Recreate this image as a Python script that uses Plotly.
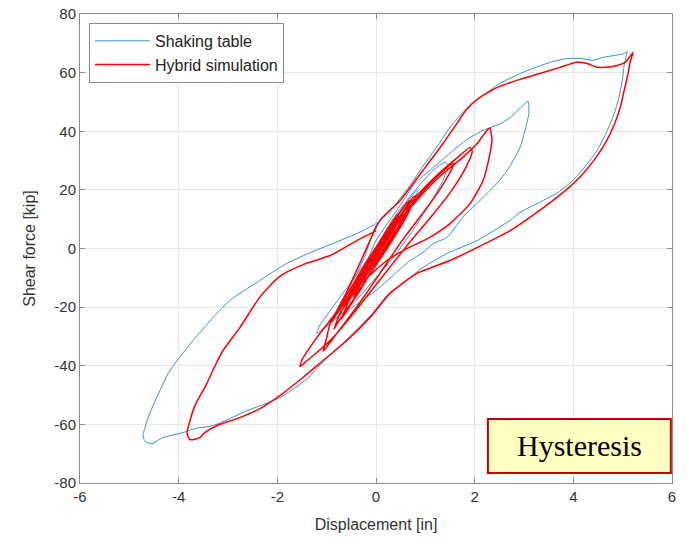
import plotly.graph_objects as go

# ---------------- data (displacement [in], shear force [kip]) ----------------
# Shaking table (blue) path segments
blue_center = [(0.00, 0.0), (0.25, 6.5), (0.55, 13.5), (0.62, 15.0), (0.55, 12.0), (0.30, 4.5),
               (0.00, -4.0), (-0.30, -11.5), (-0.45, -15.0), (-0.35, -10.5), (-0.05, -1.0),
               (0.35, 9.0), (0.75, 18.5), (0.85, 20.0), (0.75, 15.5), (0.45, 6.5), (0.10, -3.5),
               (-0.30, -13.0), (-0.60, -19.0), (-0.75, -23.0), (-0.65, -18.0), (-0.30, -8.0),
               (0.05, 1.5), (0.40, 10.5), (0.30, 5.0), (0.00, -3.0), (-0.40, -13.5),
               (-0.52, -14.5), (-0.15, -4.0)]
blue_loop2 = [(0.30, 9.0), (0.80, 20.0), (1.15, 26.5), (1.40, 29.5), (1.46, 28.5), (1.35, 23.0),
              (1.10, 15.5), (0.80, 7.5), (0.40, -2.0), (0.00, -10.0), (-0.45, -18.5),
              (-0.85, -24.5), (-1.12, -28.0), (-1.20, -29.0), (-1.15, -26.5), (-0.90, -20.5),
              (-0.55, -12.5), (-0.15, -3.0)]
blue_loop1 = [(0.00, 2.7), (0.49, 14.7), (0.79, 22.2), (1.16, 27.6), (1.64, 34.5), (1.91, 37.9),
              (2.17, 40.3), (2.51, 42.5), (2.72, 44.7), (2.98, 48.8), (3.08, 50.2), (3.10, 46.1),
              (3.06, 43.0), (2.92, 34.5), (2.66, 26.6), (2.45, 22.2), (2.17, 17.4), (1.76, 10.6),
              (1.44, 3.8), (1.16, 1.7), (0.95, -1.4), (0.69, -4.1), (0.39, -8.5), (0.00, -14.3),
              (-0.43, -19.5), (-0.83, -23.9), (-0.95, -26.0), (-0.70, -18.0), (-0.40, -9.0),
              (-0.20, -1.5)]
blue_outer = [(0.00, 7.8), (0.28, 12.6), (0.49, 17.1), (0.69, 21.5), (0.95, 28.0), (1.24, 34.8),
              (1.50, 41.3), (1.84, 47.8), (2.11, 51.5), (2.51, 56.3), (2.98, 60.1), (3.53, 63.5),
              (3.87, 64.8), (4.14, 64.8), (4.40, 64.2), (4.60, 65.2), (4.85, 65.9), (5.05, 66.6),
              (5.09, 67.2), (5.03, 62.5), (4.99, 57.3), (4.91, 50.5), (4.80, 44.7), (4.64, 38.6),
              (4.48, 33.4), (4.24, 28.0), (3.99, 23.2), (3.69, 19.1), (3.39, 16.4), (2.92, 12.3),
              (2.72, 9.6), (2.05, 2.7), (1.44, -1.7), (0.95, -6.5), (0.49, -12.5), (0.28, -15.0),
              (-0.12, -23.0), (-0.59, -31.0), (-1.07, -38.5), (-1.40, -44.5), (-1.95, -50.9),
              (-2.61, -55.3), (-3.30, -60.4), (-3.67, -61.4), (-3.91, -62.8), (-4.32, -64.5),
              (-4.54, -66.6), (-4.68, -65.9), (-4.72, -63.8), (-4.64, -58.7), (-4.52, -53.6),
              (-4.38, -48.5), (-4.22, -42.8), (-4.03, -38.2), (-3.71, -31.4), (-3.30, -23.5),
              (-2.96, -17.7), (-2.41, -11.5), (-1.80, -5.0), (-1.20, -0.5), (-0.73, 2.7),
              (-0.26, 6.1), (0.10, 9.5)]

# Hybrid simulation (red) path segments
red_center = [(0.00, 0.0), (0.30, 7.0), (0.55, 12.5), (0.50, 9.0), (0.20, 1.0), (-0.15, -8.0),
              (-0.40, -14.0), (-0.35, -9.5), (-0.05, -1.5), (0.25, 6.0), (0.45, 11.0), (0.40, 7.5),
              (0.10, -0.5), (-0.20, -8.5), (-0.50, -16.5), (-0.45, -12.0), (-0.15, -3.5),
              (0.20, 5.5), (0.60, 15.0), (0.70, 16.5), (0.60, 11.5), (0.30, 3.0), (-0.05, -6.5),
              (-0.35, -15.0), (-0.60, -21.0), (-0.55, -16.0), (-0.25, -7.0), (0.10, 3.0),
              (0.45, 12.0), (0.35, 8.0), (0.05, -1.0), (-0.25, -10.0), (-0.45, -17.0),
              (-0.35, -11.0), (0.00, -1.0)]
red_mid = [(0.40, 9.0), (0.75, 17.5), (0.80, 18.0), (0.65, 12.0), (0.30, 2.0), (-0.10, -8.0),
           (-0.50, -18.5), (-0.80, -26.0), (-0.85, -27.5), (-0.75, -23.0), (-0.45, -14.0),
           (-0.10, -4.0), (0.30, 6.0), (0.65, 14.5), (0.55, 10.0), (0.20, 0.0), (-0.20, -10.5),
           (-0.60, -21.5), (-0.70, -24.0), (-0.55, -18.0), (-0.20, -7.5)]
red_loop2 = [(0.00, -2.0), (0.50, 10.0), (0.95, 19.5), (1.30, 25.5), (1.50, 28.5), (1.58, 29.0),
             (1.50, 26.0), (1.25, 19.0), (0.90, 11.0), (0.50, 2.0), (0.10, -8.0), (-0.35, -19.0),
             (-0.75, -28.0), (-1.00, -33.5), (-1.07, -35.0), (-1.00, -30.5), (-0.93, -25.6),
             (-0.60, -16.0), (-0.20, -5.0)]
red_loop1 = [(0.30, 7.0), (0.80, 17.5), (1.30, 26.0), (1.65, 31.0), (1.91, 34.5), (1.95, 33.0),
             (1.80, 27.0), (1.50, 19.0), (1.10, 10.5), (0.70, 2.5), (0.30, -6.0), (-0.10, -14.5),
             (-0.45, -22.0)]
red_loop3 = [(-0.85, -30.0), (-1.20, -35.5), (-1.45, -39.0), (-1.54, -40.3), (-1.50, -38.0),
             (-1.20, -30.4), (-0.73, -20.1), (-0.39, -11.9), (0.02, -1.7), (0.49, 9.6),
             (0.95, 18.8), (1.36, 25.6), (1.76, 31.1), (2.05, 35.8), (2.25, 40.3), (2.31, 41.0),
             (2.35, 36.9), (2.31, 32.4), (2.17, 23.2), (1.91, 15.4), (1.50, 8.5), (1.09, 3.8),
             (0.55, -0.7), (0.22, -4.1), (-0.39, -13.3), (-0.79, -22.2), (-0.90, -25.0),
             (-0.60, -15.0), (-0.30, -4.0)]
red_outer = [(0.08, 9.6), (0.49, 16.4), (0.95, 26.6), (1.36, 35.8), (1.64, 42.7), (1.84, 47.5),
             (2.05, 50.9), (2.31, 53.6), (2.51, 55.3), (2.92, 57.7), (3.32, 59.7), (3.73, 61.8),
             (4.07, 63.5), (4.28, 63.1), (4.48, 61.8), (4.64, 61.8), (4.80, 62.1), (5.05, 63.5),
             (5.21, 66.9), (5.15, 63.5), (5.11, 59.7), (5.03, 53.9), (4.95, 48.1), (4.83, 42.3),
             (4.68, 36.9), (4.46, 31.1), (4.20, 25.6), (3.89, 20.5), (3.59, 16.4), (3.12, 10.6),
             (2.72, 6.1), (2.05, 0.3), (1.50, -4.1), (0.83, -8.5), (0.28, -15.4), (-0.12, -23.5),
             (-0.59, -31.4), (-1.07, -38.2), (-1.48, -44.0), (-1.95, -50.2), (-2.35, -54.6),
             (-2.76, -57.7), (-3.22, -60.4), (-3.47, -62.8), (-3.57, -64.5), (-3.77, -65.2),
             (-3.83, -63.1), (-3.77, -58.7), (-3.67, -53.6), (-3.43, -46.1), (-3.26, -39.9),
             (-3.10, -34.8), (-2.76, -27.0), (-2.35, -16.5), (-1.95, -9.5), (-1.48, -5.5),
             (-0.93, -2.4), (-0.39, 2.7), (0.00, 6.0)]

series_names = ["Shaking table", "Hybrid simulation"]
x_ticks = [-6, -4, -2, 0, 2, 4, 6]
y_ticks = [-80, -60, -40, -20, 0, 20, 40, 60, 80]

blue_path = blue_center + blue_loop2 + blue_loop1 + blue_outer
red_path = red_center + red_mid + red_loop2 + red_loop1 + red_loop3 + red_outer

fig = go.Figure()
fig.add_trace(go.Scatter(x=[p[0] for p in blue_path], y=[p[1] for p in blue_path],
                         mode="lines", name=series_names[0],
                         line=dict(color="#3a8fc8", width=1.0, shape="spline", smoothing=0.6)))
fig.add_trace(go.Scatter(x=[p[0] for p in red_path], y=[p[1] for p in red_path],
                         mode="lines", name=series_names[1],
                         line=dict(color="#ff0000", width=1.5, shape="spline", smoothing=0.6)))

axis_common = dict(showline=True, linecolor="#8a8a8a", linewidth=1, mirror="ticks",
                   ticks="inside", ticklen=5, tickcolor="#8a8a8a", showgrid=True,
                   gridcolor="#e6e6e6", gridwidth=1, zeroline=False, automargin=False,
                   tickfont=dict(size=15, color="#333333"))
fig.update_xaxes(range=[-6, 6], tickvals=x_ticks, ticktext=[str(v) for v in x_ticks],
                 title=dict(text="Displacement [in]", font=dict(size=16, color="#333333"),
                            standoff=14), **axis_common)
fig.update_yaxes(range=[-80, 80], tickvals=y_ticks, ticktext=[str(v) for v in y_ticks],
                 title=dict(text="Shear force [kip]", font=dict(size=16, color="#333333"),
                            standoff=14), **axis_common)

fig.add_shape(type="rect", xref="paper", yref="paper", x0=0.689, x1=0.998, y0=0.0213, y1=0.1365,
              fillcolor="#ffffc2", line=dict(color="#c00000", width=2), layer="above")
fig.add_annotation(xref="paper", yref="paper", x=0.8437, y=0.0789, xanchor="center",
                   yanchor="middle", text="Hysteresis", showarrow=False,
                   font=dict(family="Liberation Serif, serif", size=30, color="#000000"))

fig.update_layout(
    width=690, height=542,
    margin=dict(l=80, r=18, t=14, b=59, autoexpand=False),
    paper_bgcolor="white", plot_bgcolor="white",
    font=dict(family="Liberation Sans, Arial, sans-serif", size=15, color="#333333"),
    legend=dict(x=0.0152, y=0.981, xanchor="left", yanchor="top",
                bgcolor="white", bordercolor="#8a8a8a", borderwidth=1, itemwidth=55,
                font=dict(size=16, color="#222222"), tracegroupgap=0),
    showlegend=True,
)

fig.write_html("out.html", include_plotlyjs=True, config={"displayModeBar": False})
